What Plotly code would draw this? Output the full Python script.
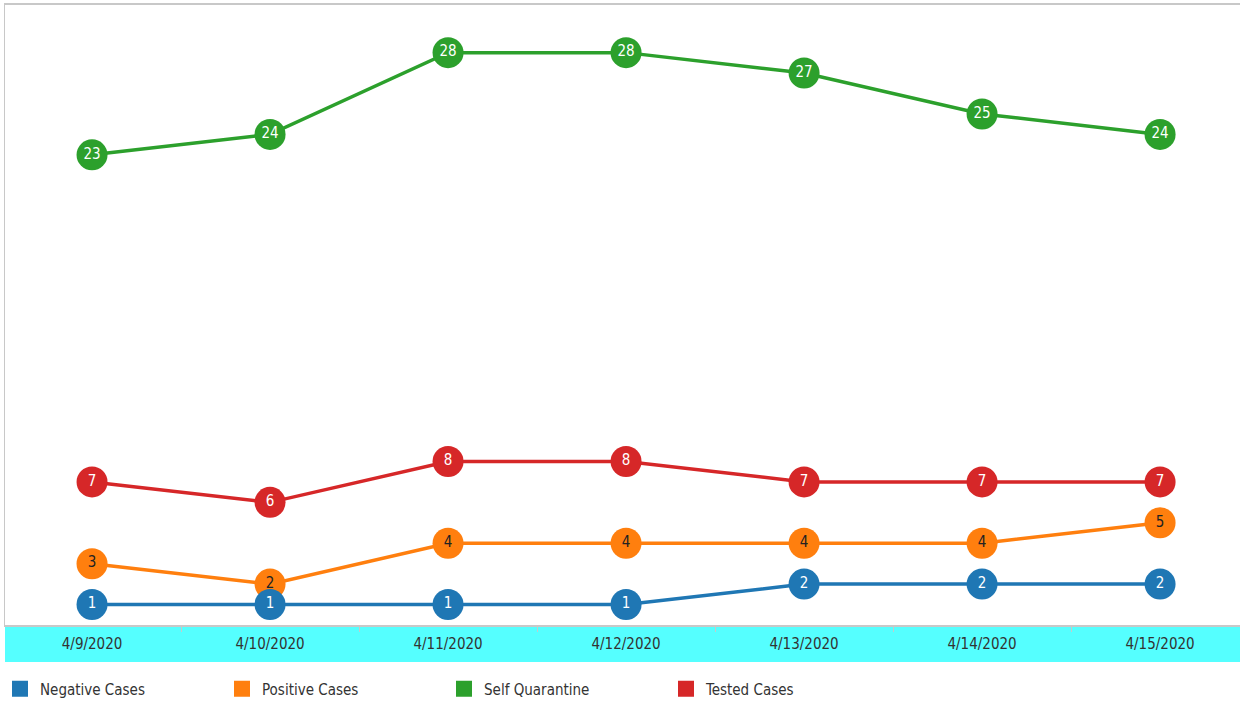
import plotly.graph_objects as go

dates = ["4/9/2020", "4/10/2020", "4/11/2020", "4/12/2020", "4/13/2020", "4/14/2020", "4/15/2020"]
negative = [1, 1, 1, 1, 2, 2, 2]
positive = [3, 2, 4, 4, 4, 4, 5]
self_quarantine = [23, 24, 28, 28, 27, 25, 24]
tested = [7, 6, 8, 8, 7, 7, 7]

series = [
    ("Negative Cases", negative, "#1f77b4", "white"),
    ("Positive Cases", positive, "#ff7f0e", "#222222"),
    ("Self Quarantine", self_quarantine, "#2ca02c", "white"),
    ("Tested Cases", tested, "#d62728", "white"),
]

FONT = "DejaVu Sans Condensed, Liberation Sans Narrow, sans-serif"

fig = go.Figure()

for name, vals, col, tcol in reversed(series):
    fig.add_trace(go.Scatter(
        x=dates, y=vals, mode="lines+markers", name=name, showlegend=False,
        line=dict(color=col, width=3.5),
        marker=dict(color=col, size=31, line=dict(width=0)),
        hoverinfo="skip", cliponaxis=False,
    ))

for name, vals, col, tcol in reversed(series):
    fig.add_trace(go.Scatter(
        x=dates, y=vals, mode="text", text=[str(v) for v in vals],
        textposition="middle center", showlegend=False,
        textfont=dict(color=tcol, size=15, family=FONT),
        hoverinfo="skip", cliponaxis=False,
    ))

for i, (name, vals, col, tcol) in enumerate(series):
    fig.add_trace(go.Scatter(
        x=[None], y=[None], mode="markers", name=name,
        marker=dict(color=col, symbol="square", size=16),
        legendrank=i + 1,
    ))

fig.add_shape(type="rect", xref="paper", yref="paper",
              x0=0, x1=1, y0=-37 / 620, y1=0,
              fillcolor="#55ffff", line=dict(width=0), layer="below")

fig.update_layout(
    width=1240, height=701,
    margin=dict(l=5, r=0, t=5, b=76),
    paper_bgcolor="white", plot_bgcolor="white",
    font=dict(family=FONT, color="#333333", size=14),
    xaxis=dict(
        type="category", range=[-0.489, 6.449],
        showgrid=False, zeroline=False,
        showline=True, linecolor="#c8c8c8", linewidth=2, mirror=True,
        ticks="outside", tickson="boundaries", ticklen=5, tickcolor="#c8c8c8",
        tickfont=dict(size=15, color="#333333", family=FONT),
        ticklabelstandoff=4,
    ),
    yaxis=dict(
        range=[0, 30.33], showgrid=False, zeroline=False,
        showticklabels=False, ticks="",
        showline=True, linecolor="#c8c8c8", linewidth=1, mirror=True,
    ),
    legend=dict(
        orientation="h", xref="container", yref="container",
        x=0, y=12 / 701, xanchor="left", yanchor="middle",
        entrywidth=177, entrywidthmode="pixels", itemwidth=30,
        font=dict(size=15, color="#333333", family=FONT),
        traceorder="normal",
    ),
)

fig.write_html("out.html", config={"displayModeBar": False},
               post_script="document.body.style.margin='0px';")
